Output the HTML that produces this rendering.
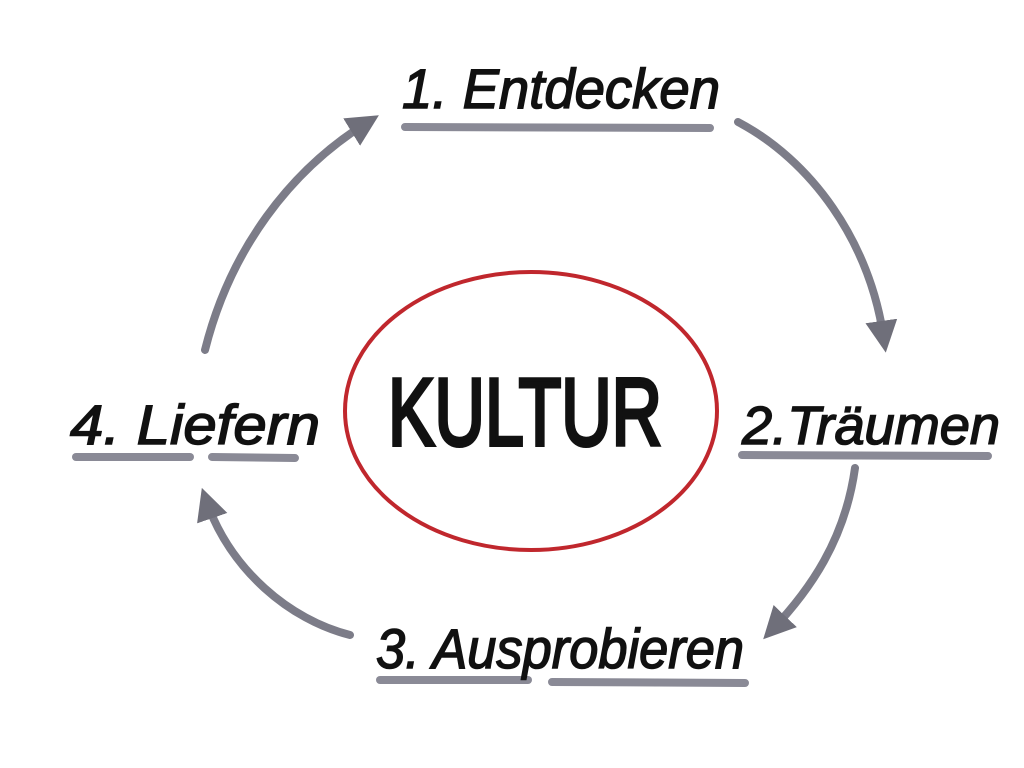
<!DOCTYPE html>
<html><head><meta charset="utf-8"><style>
html,body{margin:0;padding:0;background:#fff;width:1024px;height:768px;overflow:hidden}
</style></head><body>
<svg width="1024" height="768" viewBox="0 0 1024 768" xmlns="http://www.w3.org/2000/svg">
<rect width="1024" height="768" fill="#fff"/>
<defs>
<marker id="ah" viewBox="0 0 10 10" refX="6" refY="5" markerWidth="4" markerHeight="4.4" orient="auto">
<path d="M0,0 L10,5 L0,10 Z" fill="#6f6f7a"/>
</marker>
</defs>
<g stroke="#8a8a96" stroke-width="8" stroke-linecap="round" fill="none">
<line x1="405" y1="127" x2="710" y2="128"/>
<line x1="742" y1="455" x2="988" y2="456"/>
<line x1="380" y1="680" x2="528" y2="680"/>
<line x1="552" y1="682" x2="745" y2="683"/>
<line x1="76" y1="457" x2="190" y2="457"/>
<line x1="212" y1="457" x2="295" y2="458"/>
</g>
<g stroke="#7c7c88" stroke-width="8" stroke-linecap="round" fill="none" marker-end="url(#ah)">
<path d="M738,122 C810,160 870,240 884,340"/>
<path d="M855,468 C845,540 810,590 772,630"/>
<path d="M350,635 C290,620 230,570 206,500"/>
<path d="M205,350 C230,250 290,170 368,122"/>
</g>
<ellipse cx="531" cy="411" rx="186" ry="139" fill="none" stroke="#c0272d" stroke-width="4"/>
<g font-family="Liberation Sans, sans-serif" fill="#111" stroke="#111" stroke-width="1.5" font-style="italic">
<text x="402" y="108" font-size="56" textLength="318" lengthAdjust="spacingAndGlyphs">1. Entdecken</text>
<text x="742" y="444" font-size="54" textLength="258" lengthAdjust="spacingAndGlyphs">2.Träumen</text>
<text x="376" y="668" font-size="56" textLength="368" lengthAdjust="spacingAndGlyphs">3. Ausprobieren</text>
<text x="70" y="444" font-size="56" textLength="250" lengthAdjust="spacingAndGlyphs">4. Liefern</text>
</g>
<text x="388" y="445" font-family="Liberation Sans, sans-serif" font-size="96" fill="#111" stroke="#111" stroke-width="4" textLength="274" lengthAdjust="spacingAndGlyphs">KULTUR</text>
</svg>
</body></html>
